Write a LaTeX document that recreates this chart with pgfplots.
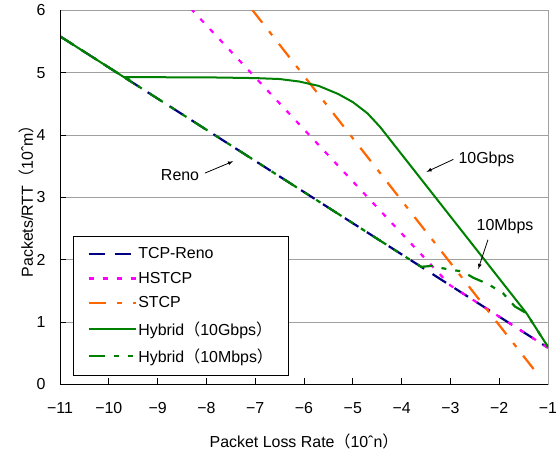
\documentclass[border=0pt]{standalone}
\usepackage{fontspec}
\setmainfont{Liberation Sans}
\newfontfamily\cjk{Noto Sans CJK JP}
\usepackage{pgfplots}
\pgfplotsset{compat=1.18}
\definecolor{renoc}{RGB}{0,0,128}
\definecolor{hsc}{RGB}{255,0,255}
\definecolor{stc}{RGB}{255,102,0}
\definecolor{hyc}{RGB}{0,128,0}
\definecolor{gridc}{RGB}{160,160,160}
\newcommand{\fs}{\fontsize{16}{19}\selectfont}
\begin{document}
\begin{tikzpicture}
\useasboundingbox (-60bp,-66.7bp) rectangle (496bp,384.3bp);
\begin{axis}[
  at={(0,0)}, anchor=south west,
  scale only axis, width=488bp, height=373.8bp,
  xmin=-11, xmax=-1, ymin=0, ymax=6,
  xtick={-11,-10,...,-1},
  xticklabels={−11,−10,−9,−8,−7,−6,−5,−4,−3,−2,−1},
  ytick={0,1,...,6},
  yticklabels={0,1,2,3,4,5,6},
  tick pos=left, tick align=inside,
  major tick length=6bp,
  tick style={black, line width=0.8bp},
  ymajorgrids, grid style={gridc, line width=0.8bp},
  axis line style={gridc, line width=0.8bp},
  tick label style={font=\fs},
  xticklabel style={yshift=-15bp},
  yticklabel style={xshift=-11bp},
  label style={font=\fs},
  xlabel={Packet Loss Rate{\cjk（}10ˆn{\cjk）}},
  ylabel={Packets/RTT{\cjk（}10ˆm{\cjk）}},
  xlabel style={at={(axis description cs:0.5,-0.154)}, anchor=center},
  ylabel style={at={(axis description cs:-0.068,0.5)}, anchor=center, rotate=0},
  legend image code/.code={\draw[#1] (0bp,0bp) -- (47bp,0bp);},
  legend cell align=left,
  legend style={at={(rel axis cs:0.027,0.3975)}, anchor=north west,
    draw=black, line width=0.8bp, fill=white, font=\fs,
    inner xsep=14bp, inner ysep=10bp, row sep=9bp,
    nodes={inner sep=1.5bp}},
  clip=true,
]
\addplot[renoc, line width=2.2bp, dash pattern=on 16bp off 10bp]
  coordinates {(-11,5.586) (-1,0.586)};
\addlegendentry{TCP-Reno}
\addplot[hsc, line width=2.2bp, dash pattern=on 5bp off 9bp]
  coordinates {(-8.32,6.03) (-3.0,1.586) (-1,0.586)};
\addlegendentry{HSTCP}
\addplot[stc, line width=2.2bp, dash pattern=on 17bp off 11bp on 5bp off 11bp]
  coordinates {(-7.07,6.02) (-1.2,0.15)};
\addlegendentry{STCP}
\addplot[hyc, line width=2bp]
  coordinates {(-11,5.586) (-9.55,4.86) (-9.63,4.93) (-8,4.927) (-7.0,4.915)
  (-6.5,4.90) (-6.1,4.86) (-5.7,4.79) (-5.3,4.66) (-5.0,4.53) (-4.7,4.35)
  (-4.44,4.13) (-1.44,1.14) (-1.0,0.6)};
\addlegendentry{Hybrid{\cjk（}10Gbps{\cjk）}}
\addplot[hyc, line width=2.2bp, dash pattern=on 16bp off 9bp on 5bp off 9bp on 5bp off 9bp]
  coordinates {(-11,5.586) (-3.6,1.886) (-3.38,1.90) (-3.08,1.85) (-2.75,1.81)
  (-2.53,1.71) (-2.23,1.61) (-1.92,1.46) (-1.68,1.25) (-1.44,1.14) (-1,0.6)};
\addlegendentry{Hybrid{\cjk（}10Mbps{\cjk）}}
\draw[black, line width=1bp] (rel axis cs:0,0) -- (rel axis cs:0,1);
\draw[black, line width=1bp] (rel axis cs:0,0) -- (rel axis cs:1,0);
\node[font=\fs] at (axis cs:-8.54,3.36) {Reno};
\draw[-latex, line width=0.8bp] (axis cs:-8.03,3.39) -- (axis cs:-7.45,3.58);
\node[font=\fs] at (axis cs:-2.26,3.61) {10Gbps};
\draw[-latex, line width=0.8bp] (axis cs:-2.94,3.61) -- (axis cs:-3.49,3.41);
\node[font=\fs] at (axis cs:-1.88,2.53) {10Mbps};
\draw[-latex, line width=0.8bp] (axis cs:-2.23,2.32) -- (axis cs:-2.43,1.85);
\end{axis}
\end{tikzpicture}
\end{document}
